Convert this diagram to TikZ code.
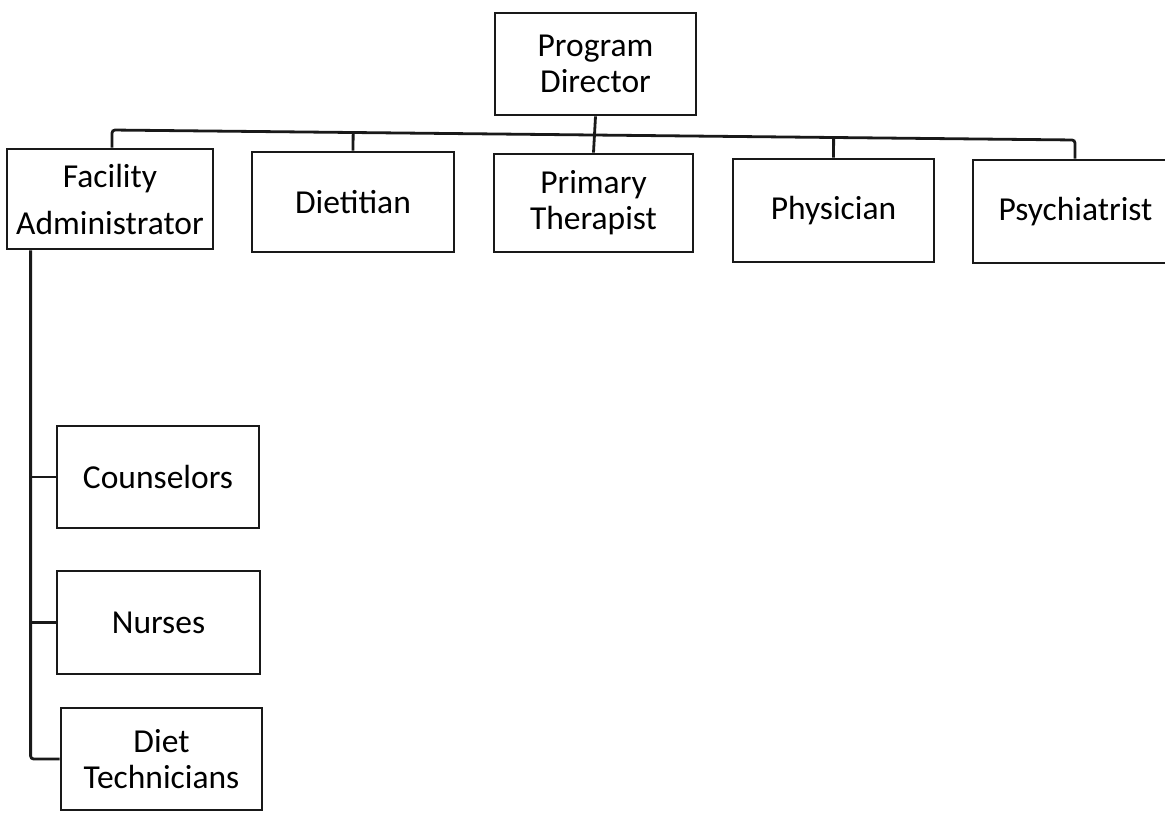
\documentclass[tikz,border=0pt]{standalone}
\usepackage{fontspec}
\setmainfont{Carlito}
\usetikzlibrary{calc}
\tikzset{
  orgbox/.style={draw=black!90, line width=2.8pt, rectangle, inner sep=0pt, align=center,
    font=\fontsize{33.5}{36}\selectfont, text=black},
  conn/.style={draw=black!90, line width=2.8pt, rounded corners=3pt},
}
\begin{document}
\begin{tikzpicture}[x=1pt,y=-1pt]
\useasboundingbox (0,0) rectangle (1165,812);
% boxes
\node[orgbox, minimum width=201, minimum height=102] (pd) at (595.5,64) {Program\\Director};
\node[orgbox, minimum width=206, minimum height=100, font=\fontsize{33.5}{47}\selectfont] (fa) at (110,199) {Facility\\Administrator};
\node[orgbox, minimum width=202, minimum height=100] (di) at (353,202) {Dietitian};
\node[orgbox, minimum width=199, minimum height=98] (pt) at (593.5,203) {Primary\\Therapist};
\node[orgbox, minimum width=201, minimum height=103] (ph) at (833.5,210.5) {Physician};
\node[orgbox, minimum width=205, minimum height=103] (ps) at (1075.5,211.5) {Psychiatrist};
\node[orgbox, minimum width=202, minimum height=102] (co) at (158,477) {Counselors};
\node[orgbox, minimum width=203, minimum height=103] (nu) at (158.5,622.5) {Nurses};
\node[orgbox, minimum width=201, minimum height=102] (dt) at (161.5,759) {Diet\\Technicians};
% top bus
\coordinate (bl) at (112,130);
\coordinate (br) at (1075,140);
\draw[conn] (fa.north -| bl) -- (bl) -- (br) -- (ps.north -| br);
\draw[conn] (pd.south) -- (pt.north);
\draw[conn] (di.north) -- ($(bl)!(di.north)!(br)$);
\draw[conn] (ph.north) -- ($(bl)!(ph.north)!(br)$);
% left spine
\coordinate (vt) at ($(fa.south west)+(25,0)$);
\draw[conn] (vt) |- (dt.west);
\draw[conn] (vt |- co.west) -- (co.west);
\draw[conn] (vt |- nu.west) -- (nu.west);
\clip (0,0) rectangle (1165,812);
\end{tikzpicture}
\end{document}
